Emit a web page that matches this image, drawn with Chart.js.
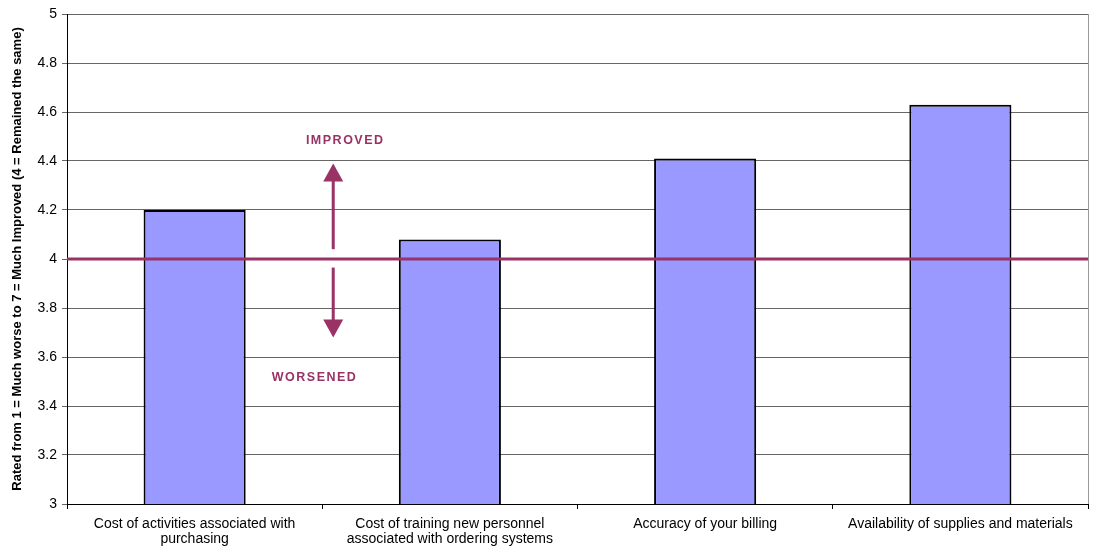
<!DOCTYPE html>
<html>
<head>
<meta charset="utf-8">
<script src="https://cdn.jsdelivr.net/npm/chart.js@4.4.1/dist/chart.umd.min.js"></script>
<style>
  html, body { margin: 0; padding: 0; background: #fff; }
  #wrap { width: 1093px; height: 548px; }
</style>
</head>
<body>
<div id="wrap"><canvas id="c" width="1093" height="548"></canvas></div>
<script>
const categorias = [
  ['Cost of activities associated with', 'purchasing'],
  ['Cost of training new personnel', 'associated with ordering systems'],
  'Accuracy of your billing',
  'Availability of supplies and materials'
];
const notas = [4.2, 4.08, 4.41, 4.63];
const linhaBase = 4;
const tituloY = 'Rated from 1 = Much worse to 7 = Much Improved (4 = Remained the same)';

const corLinha = '#993366';

// linha de referencia, setas e textos IMPROVED / WORSENED
const anotacoes = {
  id: 'anotacoes',
  afterDatasetsDraw(chart) {
    const { ctx, chartArea: a, scales: { x, y } } = chart;
    ctx.save();
    // borda direita cinza
    ctx.strokeStyle = '#999';
    ctx.lineWidth = 1;
    ctx.beginPath();
    ctx.moveTo(a.right + 0.5, a.top);
    ctx.lineTo(a.right + 0.5, a.bottom);
    ctx.stroke();

    const y4 = y.getPixelForValue(linhaBase);
    ctx.strokeStyle = corLinha;
    ctx.lineWidth = 3;
    ctx.beginPath();
    ctx.moveTo(a.left, y4);
    ctx.lineTo(a.right, y4);
    ctx.stroke();

    const seta = (xv, y0, y1) => {
      const px = x.getPixelForValue(xv);
      const p0 = y.getPixelForValue(y0);
      const p1 = y.getPixelForValue(y1);
      const dir = p1 < p0 ? 1 : -1;
      ctx.strokeStyle = corLinha;
      ctx.fillStyle = corLinha;
      ctx.lineWidth = 3;
      ctx.beginPath();
      ctx.moveTo(px, p0);
      ctx.lineTo(px, p1 + dir * 14);
      ctx.stroke();
      ctx.beginPath();
      ctx.moveTo(px, p1);
      ctx.lineTo(px - 10, p1 + dir * 18);
      ctx.lineTo(px + 10, p1 + dir * 18);
      ctx.closePath();
      ctx.fill();
    };
    seta(0.543, 4.04, 4.39);
    seta(0.543, 3.965, 3.68);

    ctx.fillStyle = corLinha;
    ctx.font = "bold 12.5px 'Liberation Sans', Arial, sans-serif";
    ctx.textAlign = 'center';
    ctx.textBaseline = 'middle';
    ctx.letterSpacing = '1.5px';
    ctx.fillText('IMPROVED', x.getPixelForValue(0.59), y.getPixelForValue(4.485));
    ctx.fillText('WORSENED', x.getPixelForValue(0.47), y.getPixelForValue(3.515));
    ctx.restore();
  }
};

const fonte = "'Liberation Sans', Arial, sans-serif";

new Chart(document.getElementById('c'), {
  type: 'bar',
  data: {
    labels: categorias,
    datasets: [{
      data: notas,
      backgroundColor: '#9999ff',
      borderColor: '#000',
      borderWidth: 2,
      barPercentage: 0.4,
      categoryPercentage: 1
    }]
  },
  options: {
    responsive: false,
    animation: false,
    layout: { padding: { top: 14, right: 5, left: 0, bottom: 0 } },
    plugins: {
      legend: { display: false },
      tooltip: { enabled: false }
    },
    scales: {
      x: {
        grid: { offset: true, drawOnChartArea: false, color: '#000', tickLength: 5 },
        border: { color: '#000', width: 1 },
        ticks: { color: '#000', font: { family: fonte, size: 14, lineHeight: 1.1 }, maxRotation: 0, autoSkip: false, padding: 7 },
        afterFit(s) { s.height = 44; }
      },
      y: {
        min: 3,
        max: 5,
        ticks: {
          stepSize: 0.2,
          color: '#000',
          font: { family: fonte, size: 14 },
          padding: 5,
          callback: v => String(Number(v.toFixed(1)))
        },
        grid: { color: '#666', tickLength: 5 },
        border: { color: '#000', width: 1 },
        title: {
          display: true,
          text: tituloY,
          color: '#000',
          font: { family: fonte, size: 13, weight: 'bold' },
          padding: { top: 10, bottom: 0 }
        },
        afterFit(s) { s.width = 67; }
      }
    }
  },
  plugins: [anotacoes]
});
</script>
</body>
</html>
